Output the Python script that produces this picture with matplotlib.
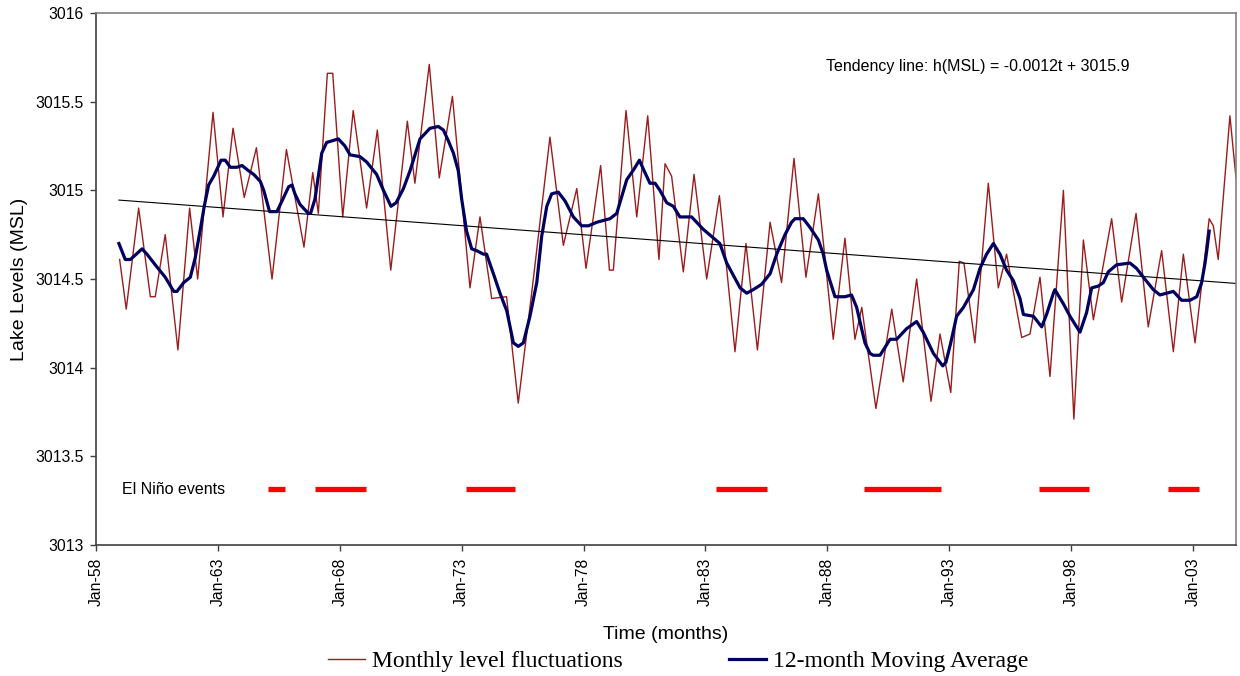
import numpy as np
import matplotlib
matplotlib.use("Agg")
import matplotlib.pyplot as plt

plt.rcParams['font.family'] = ['Liberation Sans', 'DejaVu Sans']

# Monthly lake level (turning points), decimal years / MSL
monthly_years = [1958.97, 1959.24, 1959.75, 1960.23, 1960.43, 1960.84, 1961.36, 1961.84,
                 1962.17, 1962.80, 1963.21, 1963.62, 1964.08, 1964.58, 1965.22, 1965.81,
                 1966.53, 1966.89, 1967.12, 1967.49, 1967.71, 1968.12, 1968.55, 1969.10,
                 1969.54, 1970.09, 1970.77, 1971.08, 1971.67, 1972.08, 1972.62, 1973.34,
                 1973.75, 1974.23, 1974.84, 1975.32, 1975.87, 1976.62, 1977.17, 1977.72,
                 1978.10, 1978.70, 1979.06, 1979.22, 1979.74, 1980.18, 1980.63, 1981.09,
                 1981.34, 1981.61, 1982.09, 1982.53, 1983.05, 1983.57, 1984.21, 1984.66,
                 1985.13, 1985.65, 1986.12, 1986.63, 1987.12, 1987.63, 1988.24, 1988.72,
                 1989.13, 1989.41, 1989.99, 1990.64, 1991.11, 1991.66, 1992.25, 1992.62,
                 1993.06, 1993.41, 1993.60, 1994.05, 1994.60, 1995.01, 1995.35, 1995.97,
                 1996.31, 1996.72, 1997.13, 1997.68, 1998.11, 1998.50, 1998.91, 1999.66,
                 2000.07, 2000.66, 2001.16, 2001.71, 2002.19, 2002.60, 2003.08, 2003.66,
                 2003.83, 2004.03, 2004.51, 2004.76]
monthly_levels = [3014.61, 3014.33, 3014.90, 3014.40, 3014.40, 3014.75, 3014.10, 3014.90,
                  3014.50, 3015.44, 3014.85, 3015.35, 3014.96, 3015.24, 3014.50, 3015.23,
                  3014.68, 3015.10, 3014.87, 3015.66, 3015.66, 3014.85, 3015.45, 3014.90,
                  3015.34, 3014.55, 3015.39, 3015.04, 3015.71, 3015.07, 3015.53, 3014.45,
                  3014.85, 3014.39, 3014.40, 3013.80, 3014.42, 3015.30, 3014.69, 3015.01,
                  3014.56, 3015.14, 3014.55, 3014.55, 3015.45, 3014.85, 3015.42, 3014.61,
                  3015.15, 3015.08, 3014.54, 3015.09, 3014.50, 3014.97, 3014.09, 3014.70,
                  3014.10, 3014.82, 3014.48, 3015.18, 3014.51, 3014.98, 3014.16, 3014.73,
                  3014.16, 3014.34, 3013.77, 3014.33, 3013.92, 3014.50, 3013.81, 3014.19,
                  3013.86, 3014.60, 3014.59, 3014.14, 3015.04, 3014.45, 3014.64, 3014.17,
                  3014.19, 3014.51, 3013.95, 3015.00, 3013.71, 3014.72, 3014.27, 3014.84,
                  3014.37, 3014.87, 3014.23, 3014.66, 3014.09, 3014.64, 3014.14, 3014.84,
                  3014.80, 3014.61, 3015.42, 3015.07]

# 12-month moving average
ma_years = [1958.94, 1959.20, 1959.41, 1959.89, 1960.09, 1960.43, 1960.84, 1961.19, 1961.32,
            1961.60, 1961.87, 1962.07, 1962.28, 1962.44, 1962.62, 1962.83, 1963.13, 1963.30,
            1963.51, 1963.78, 1963.99, 1964.26, 1964.47, 1964.74, 1964.88, 1965.12, 1965.42,
            1965.63, 1965.90, 1966.04, 1966.16, 1966.37, 1966.71, 1966.80, 1966.98, 1967.26,
            1967.46, 1967.94, 1968.21, 1968.42, 1968.83, 1969.10, 1969.51, 1969.79, 1970.10,
            1970.31, 1970.61, 1970.88, 1971.29, 1971.70, 1972.04, 1972.25, 1972.45, 1972.66,
            1972.86, 1973.00, 1973.20, 1973.41, 1973.61, 1973.89, 1974.02, 1974.30, 1974.57,
            1974.85, 1975.12, 1975.32, 1975.53, 1975.80, 1976.08, 1976.28, 1976.49, 1976.69,
            1976.96, 1977.24, 1977.58, 1977.92, 1978.20, 1978.54, 1978.81, 1979.08, 1979.36,
            1979.49, 1979.77, 1980.07, 1980.29, 1980.45, 1980.72, 1980.93, 1981.13, 1981.41,
            1981.68, 1981.95, 1982.43, 1982.91, 1983.59, 1983.87, 1984.42, 1984.69, 1984.96,
            1985.30, 1985.65, 1985.92, 1986.26, 1986.53, 1986.67, 1987.01, 1987.29, 1987.63,
            1987.83, 1987.97, 1988.31, 1988.72, 1988.99, 1989.20, 1989.54, 1989.75, 1989.88,
            1990.16, 1990.57, 1990.84, 1991.25, 1991.66, 1991.93, 1992.35, 1992.73, 1992.86,
            1993.06, 1993.30, 1993.58, 1993.99, 1994.26, 1994.53, 1994.81, 1995.08, 1995.35,
            1995.63, 1995.90, 1996.04, 1996.45, 1996.79, 1996.99, 1997.27, 1997.33, 1997.68,
            1997.95, 1998.36, 1998.63, 1998.84, 1999.11, 1999.32, 1999.52, 1999.86, 2000.41,
            2000.68, 2000.96, 2001.37, 2001.64, 2002.19, 2002.53, 2002.87, 2003.15, 2003.35,
            2003.49, 2003.56, 2003.66]
ma_levels = [3014.70, 3014.61, 3014.61, 3014.67, 3014.64, 3014.58, 3014.51, 3014.43, 3014.43,
             3014.48, 3014.51, 3014.62, 3014.78, 3014.91, 3015.03, 3015.08, 3015.17, 3015.17,
             3015.13, 3015.13, 3015.14, 3015.11, 3015.09, 3015.05, 3015.00, 3014.88, 3014.88,
             3014.94, 3015.02, 3015.03, 3014.98, 3014.92, 3014.87, 3014.87, 3014.95, 3015.21,
             3015.27, 3015.29, 3015.25, 3015.20, 3015.19, 3015.16, 3015.09, 3015.00, 3014.91,
             3014.93, 3015.01, 3015.11, 3015.29, 3015.35, 3015.36, 3015.34, 3015.28, 3015.21,
             3015.11, 3014.95, 3014.77, 3014.67, 3014.66, 3014.64, 3014.64, 3014.53, 3014.42,
             3014.32, 3014.14, 3014.12, 3014.14, 3014.29, 3014.48, 3014.74, 3014.91, 3014.98,
             3014.99, 3014.94, 3014.85, 3014.80, 3014.80, 3014.82, 3014.83, 3014.84, 3014.87,
             3014.93, 3015.06, 3015.12, 3015.17, 3015.12, 3015.04, 3015.04, 3015.00, 3014.93,
             3014.91, 3014.85, 3014.85, 3014.78, 3014.70, 3014.59, 3014.45, 3014.42, 3014.44,
             3014.47, 3014.53, 3014.64, 3014.75, 3014.82, 3014.84, 3014.84, 3014.79, 3014.72,
             3014.64, 3014.55, 3014.40, 3014.40, 3014.41, 3014.34, 3014.14, 3014.08, 3014.07,
             3014.07, 3014.16, 3014.16, 3014.22, 3014.26, 3014.20, 3014.08, 3014.01, 3014.03,
             3014.14, 3014.29, 3014.34, 3014.44, 3014.56, 3014.64, 3014.70, 3014.64, 3014.55,
             3014.49, 3014.39, 3014.30, 3014.29, 3014.23, 3014.30, 3014.42, 3014.44, 3014.36,
             3014.29, 3014.20, 3014.31, 3014.45, 3014.46, 3014.48, 3014.54, 3014.58, 3014.59,
             3014.56, 3014.51, 3014.44, 3014.41, 3014.43, 3014.38, 3014.38, 3014.40, 3014.48,
             3014.59, 3014.66, 3014.77]

# Tendency line end points
trend_years = [1958.94, 2004.76]
trend_levels = [3014.945, 3014.475]

# El Nino events (start, end in decimal years)
nino_start = [1965.05, 1966.98, 1973.18, 1983.43, 1989.50, 1996.68, 2001.97]
nino_end = [1965.75, 1969.07, 1975.19, 1985.52, 1992.66, 1998.73, 2003.24]
nino_level = 3013.315

tick_years = [1958, 1963, 1968, 1973, 1978, 1983, 1988, 1993, 1998, 2003]
tick_labels = ['Jan-58', 'Jan-63', 'Jan-68', 'Jan-73', 'Jan-78',
               'Jan-83', 'Jan-88', 'Jan-93', 'Jan-98', 'Jan-03']

fig = plt.figure(figsize=(12.4, 6.76), dpi=100)
ax = fig.add_axes([96 / 1240, 1 - 545 / 676, (1236 - 96) / 1240, (545 - 13) / 676])

red_line, = ax.plot(monthly_years, monthly_levels, color='#9B1C1C', lw=1.0)
ax.plot(trend_years, trend_levels, color='black', lw=0.8)
blue_line, = ax.plot(ma_years, ma_levels, color='#000060', lw=2.3)

for s, e in zip(nino_start, nino_end):
    ax.plot([s, e], [nino_level, nino_level], color='#FF0000', lw=3.8, solid_capstyle='butt')

ax.text(1959.05, nino_level, 'El Niño events', fontsize=11.5, va='center', ha='left')
ax.text(1987.94, 3015.70, 'Tendency line: h(MSL) = -0.0012t + 3015.9', fontsize=11.5,
        va='center', ha='left')

ax.set_xlim(1958, 2004.76)
ax.set_ylim(3013, 3016)
ax.set_xticks(tick_years)
ax.set_xticklabels(tick_labels, rotation=90, fontsize=11.3)
ax.set_yticks(np.arange(3013, 3016.01, 0.5))
ax.set_yticklabels(['3013', '3013.5', '3014', '3014.5', '3015', '3015.5', '3016'], fontsize=11.3)
ax.tick_params(direction='out', length=4, width=1, color='#404040', pad=5)

for side in ['left', 'bottom']:
    ax.spines[side].set_color('#404040')
    ax.spines[side].set_linewidth(1.2)
for side in ['top', 'right']:
    ax.spines[side].set_color('#808080')
    ax.spines[side].set_linewidth(1.2)

ax.set_ylabel('Lake Levels (MSL)', fontsize=14, labelpad=5)
ax.set_xlabel('Time (months)', fontsize=14, labelpad=14)

fig.legend([red_line, blue_line], ['Monthly level fluctuations', '12-month Moving Average'],
           loc='center', bbox_to_anchor=(0.547, 1 - 661 / 676), ncol=2, frameon=False,
           prop={'family': 'Liberation Serif', 'size': 17}, handlelength=1.55,
           handletextpad=0.3, columnspacing=4.5)

fig.savefig('out.png', dpi=100)
